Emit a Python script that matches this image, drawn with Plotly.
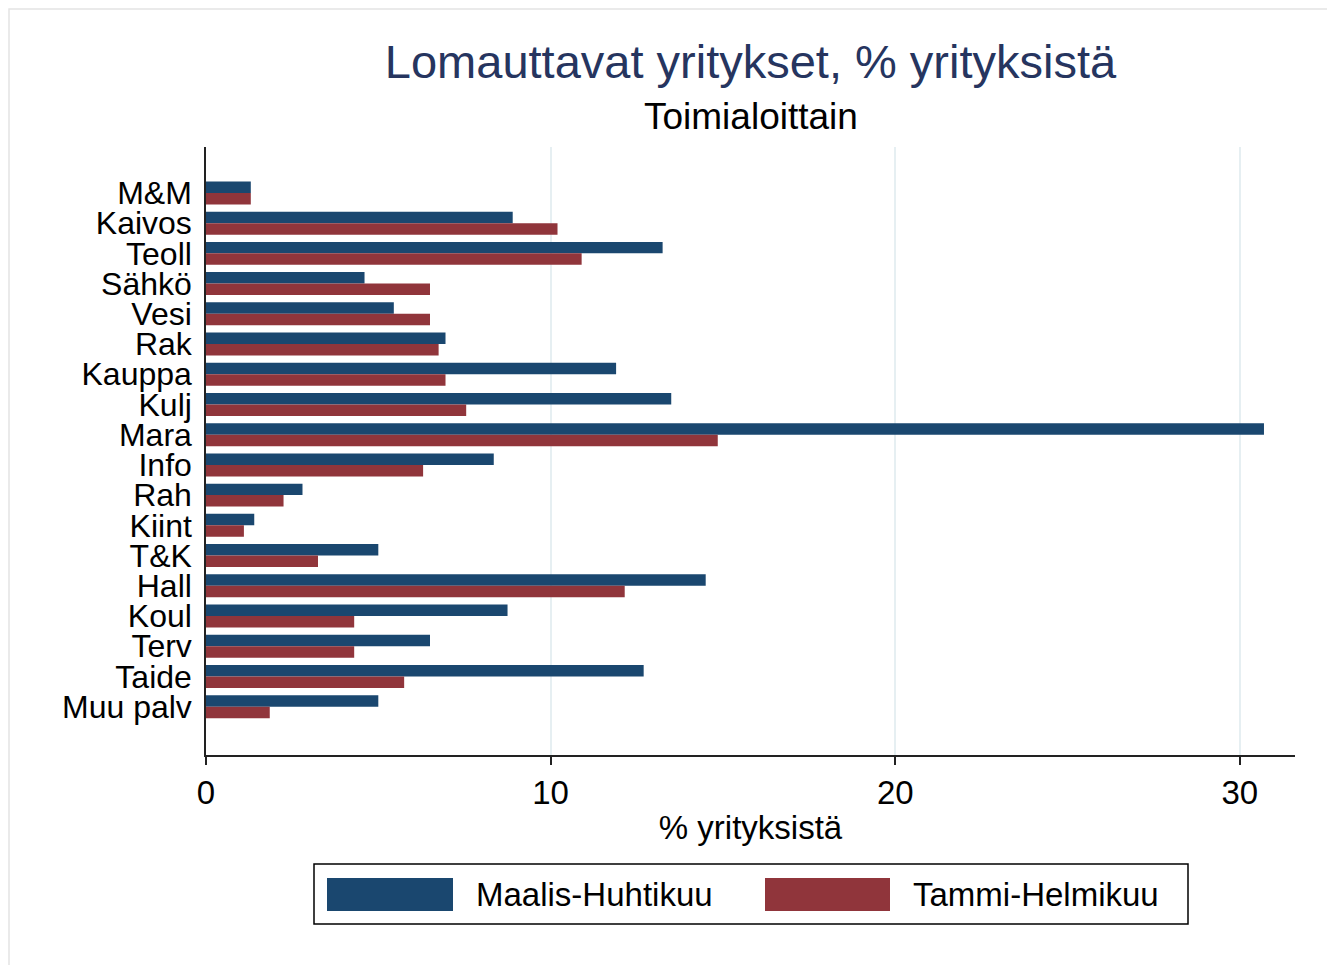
import plotly.graph_objects as go

# toimialat ylhäältä alas
categories = ['M&M', 'Kaivos', 'Teoll', 'Sähkö', 'Vesi', 'Rak', 'Kauppa', 'Kulj',
              'Mara', 'Info', 'Rah', 'Kiint', 'T&K', 'Hall', 'Koul', 'Terv',
              'Taide', 'Muu palv']
maalis_huhti = [1.3, 8.9, 13.25, 4.6, 5.45, 6.95, 11.9, 13.5,
                30.7, 8.35, 2.8, 1.4, 5.0, 14.5, 8.75, 6.5, 12.7, 5.0]
tammi_helmi = [1.3, 10.2, 10.9, 6.5, 6.5, 6.75, 6.95, 7.55,
               14.85, 6.3, 2.25, 1.1, 3.25, 12.15, 4.3, 4.3, 5.75, 1.85]
series_names = ['Maalis-Huhtikuu', 'Tammi-Helmikuu']

BLUE = '#1a476f'
RED = '#90353b'
FONT = 'Liberation Sans, Arial, sans-serif'

# page body has an 8px margin, so the figure is placed at (8, 8)
OFF = 8
W, H = 1335 - OFF, 965 - OFF
# plot area in screen pixels
L, R, T, B = 206, 1295, 147, 755


def px(x):
    return (x - L) / (R - L)


def py(y):
    return (B - y) / (B - T)


fig = go.Figure()
fig.add_trace(go.Bar(y=categories, x=maalis_huhti, orientation='h',
                     name=series_names[0], marker_color=BLUE,
                     marker_line_width=0, showlegend=False))
fig.add_trace(go.Bar(y=categories, x=tammi_helmi, orientation='h',
                     name=series_names[1], marker_color=RED,
                     marker_line_width=0, showlegend=False))

shapes = [
    # faint outer frame
    dict(type='rect', xref='paper', yref='paper', x0=px(9), x1=px(1328),
         y0=py(990), y1=py(9), line=dict(color='#e4e4e4', width=1.5), layer='below'),
    # legend box
    dict(type='rect', xref='paper', yref='paper', x0=px(314), x1=px(1188),
         y0=py(924), y1=py(864), line=dict(color='black', width=1.5)),
]
annotations = [
    dict(text='Toimialoittain', xref='paper', yref='paper', x=0.5, y=py(117),
         xanchor='center', yanchor='middle', showarrow=False,
         font=dict(family=FONT, size=37, color='black')),
]
# legend swatches + labels
for name, color, sx0, sx1, tx in [(series_names[0], BLUE, 327, 453, 474),
                                  (series_names[1], RED, 765, 890, 911)]:
    shapes.append(dict(type='rect', xref='paper', yref='paper', x0=px(sx0), x1=px(sx1),
                       y0=py(911), y1=py(878), fillcolor=color, line=dict(width=0)))
    annotations.append(dict(text=name, xref='paper', yref='paper', x=px(tx), y=py(894),
                            xanchor='left', yanchor='middle', showarrow=False,
                            font=dict(family=FONT, size=33, color='black')))

fig.update_layout(
    width=W, height=H,
    margin=dict(l=L - OFF, r=W + OFF - R, t=T - OFF, b=H + OFF - B),
    paper_bgcolor='white', plot_bgcolor='white',
    barmode='group', bargap=0.24, bargroupgap=0,
    title=dict(text='Lomauttavat yritykset, % yrityksistä', xref='paper', x=0.5,
               xanchor='center', yref='container', y=1 - (62 - OFF) / H, yanchor='middle',
               font=dict(family=FONT, size=47, color='#26355f')),
    xaxis=dict(range=[0, 31.6], tickvals=[0, 10, 20, 30], showgrid=True,
               gridcolor='#e6eff2', gridwidth=1.5, zeroline=False,
               showline=True, linecolor='#222', linewidth=1.5,
               ticks='outside', ticklen=8, tickwidth=1.5, tickcolor='#222',
               tickfont=dict(family=FONT, size=33, color='black'),
               title=dict(text='% yrityksistä', standoff=6,
                          font=dict(family=FONT, size=33, color='black'))),
    yaxis=dict(categoryorder='array', categoryarray=categories,
               tickmode='array', tickvals=categories, ticktext=categories,
               range=[18.6, -1.52], showgrid=False, zeroline=False,
               showline=True, linecolor='#222', linewidth=1.5,
               ticks='', ticklabelstandoff=6,
               tickfont=dict(family=FONT, size=32, color='black')),
    shapes=shapes,
    annotations=annotations,
)

fig.write_html('out.html')
